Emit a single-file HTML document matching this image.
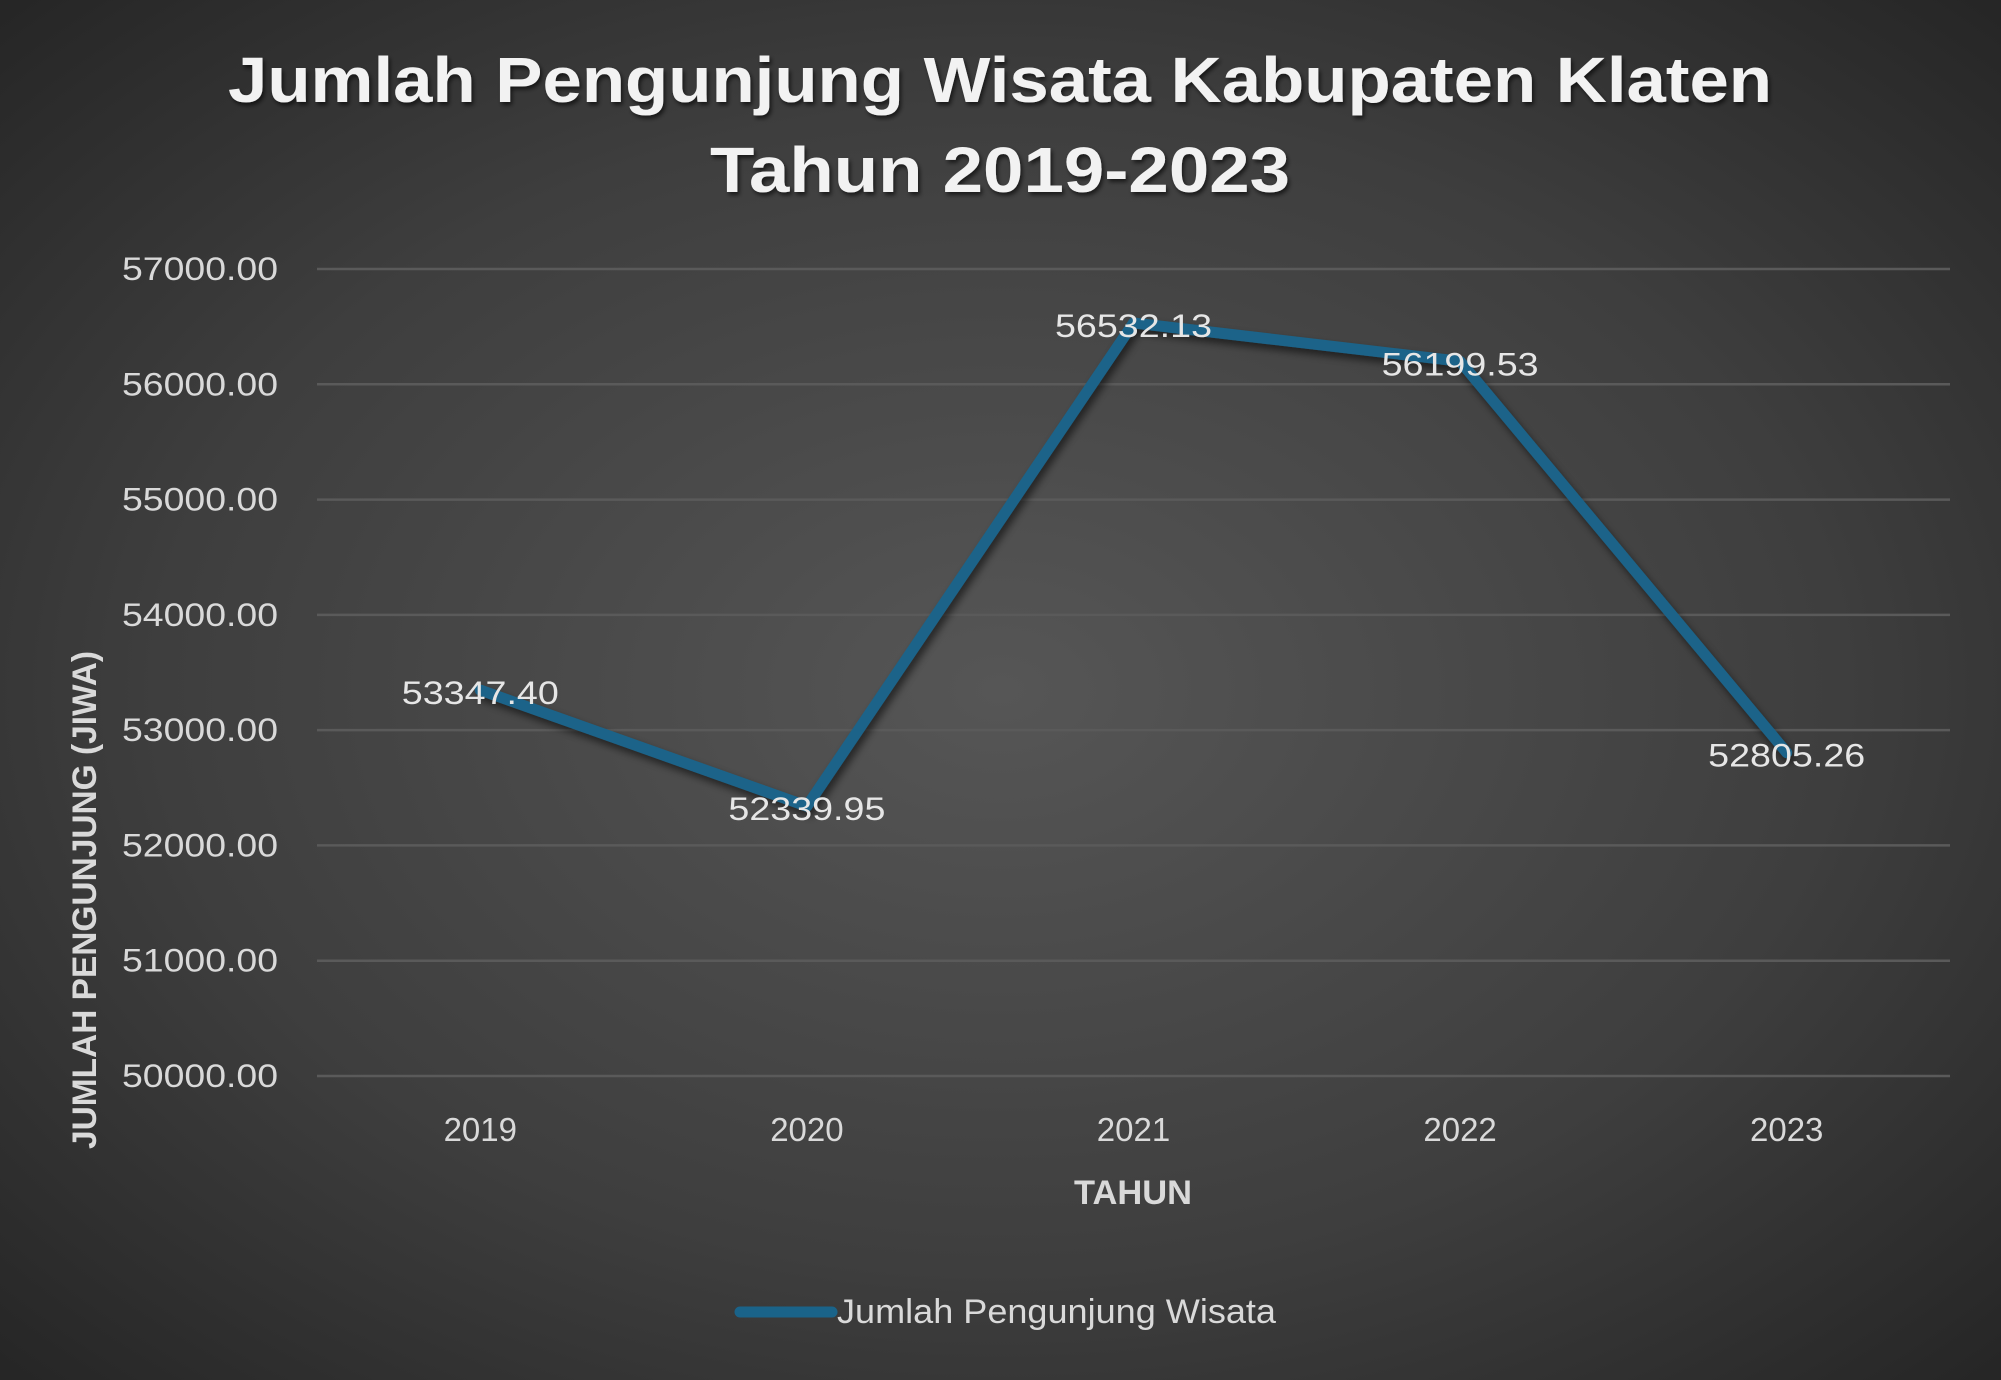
<!DOCTYPE html>
<html><head><meta charset="utf-8"><style>
html,body{margin:0;padding:0;background:#2b2b2b}
svg{display:block}
text{font-family:"Liberation Sans",sans-serif}
</style></head><body>
<svg id="chart" width="2001" height="1380" viewBox="0 0 2001 1380">
<defs>
<radialGradient id="bg" cx="0.5" cy="0.5" r="0.7">
<stop offset="0" stop-color="#565656"/><stop offset="0.6" stop-color="#3e3e3e"/><stop offset="1" stop-color="#262626"/>
</radialGradient>
<filter id="sh" x="-10%" y="-10%" width="120%" height="130%"><feDropShadow dx="3" dy="5" stdDeviation="4" flood-color="#000" flood-opacity="0.55"/></filter>
<filter id="tsh"><feDropShadow dx="2" dy="3" stdDeviation="2" flood-color="#000" flood-opacity="0.6"/></filter>
</defs>
<rect width="2001" height="1380" fill="url(#bg)"/>
<g filter="url(#tsh)">
<text x="1000" y="102" text-anchor="middle" font-size="64" font-weight="bold" fill="#f2f2f2" textLength="1544" lengthAdjust="spacingAndGlyphs">Jumlah Pengunjung Wisata Kabupaten Klaten</text>
<text x="1000" y="192" text-anchor="middle" font-size="64" font-weight="bold" fill="#f2f2f2" textLength="580" lengthAdjust="spacingAndGlyphs">Tahun 2019-2023</text>
</g>
<g id="grid"></g><g id="yticks"></g><g id="xticks"></g><g id="series"></g><g id="labels"></g>
<text x="0" y="0" transform="translate(96,900) rotate(-90)" text-anchor="middle" font-size="34" font-weight="bold" fill="#d9d9d9" textLength="498" lengthAdjust="spacingAndGlyphs">JUMLAH PENGUNJUNG (JIWA)</text>
<text x="1133" y="1204" text-anchor="middle" font-size="34" font-weight="bold" fill="#d9d9d9" textLength="118" lengthAdjust="spacingAndGlyphs">TAHUN</text>
<g>
<line x1="740" y1="1312" x2="832" y2="1312" stroke="#1a6389" stroke-width="11" stroke-linecap="round"/>
<text x="837" y="1323" font-size="34" fill="#d9d9d9" textLength="439" lengthAdjust="spacingAndGlyphs">Jumlah Pengunjung Wisata</text>
</g>
</svg>
<script>
const categories=["2019","2020","2021","2022","2023"];
const values=[53347.40,52339.95,56532.13,56199.53,52805.26];
const yTicks=[50000,51000,52000,53000,54000,55000,56000,57000];
const NS="http://www.w3.org/2000/svg";
const L=317,R=1950,T=269,B=1076,ymin=50000,ymax=57000;
function yScale(v){return B-(v-ymin)/(ymax-ymin)*(B-T);}
function xScale(i){const w=(R-L)/categories.length;return L+w*(i+0.5);}
function mk(tag,attrs,parent){const e=document.createElementNS(NS,tag);for(const k in attrs)e.setAttribute(k,attrs[k]);parent.appendChild(e);return e;}
const grid=document.getElementById('grid'),yt=document.getElementById('yticks'),xt=document.getElementById('xticks'),ser=document.getElementById('series'),lab=document.getElementById('labels');
yTicks.forEach(v=>{
 const y=yScale(v);
 const g=mk('line',{x1:L,x2:R,y1:y,y2:y,stroke:'#5a5a5a','stroke-width':2.5},grid);
 
 
 const t=mk('text',{x:278,y:y+11,'text-anchor':'end','font-size':32,fill:'#d9d9d9',textLength:156,lengthAdjust:'spacingAndGlyphs'},yt);
 t.textContent=v.toFixed(2);
 
 
});
categories.forEach((c,i)=>{
 const t=mk('text',{x:xScale(i),y:1141,'text-anchor':'middle','font-size':33,fill:'#d9d9d9'},xt);
 t.textContent=c;
 
 
});
const pts=values.map((v,i)=>xScale(i)+','+yScale(v)).join(' ');
const pl=mk('polyline',{points:pts,fill:'none',stroke:'#1a6389','stroke-width':11,'stroke-linejoin':'round','stroke-linecap':'round',filter:'url(#sh)'},ser);


values.forEach((v,i)=>{
 const t=mk('text',{x:xScale(i),y:yScale(v)+14,'text-anchor':'middle','font-size':32,fill:'#e6e6e6',textLength:157,lengthAdjust:'spacingAndGlyphs'},lab);
 t.textContent=v.toFixed(2);
 
 
});
</script>
</body></html>
